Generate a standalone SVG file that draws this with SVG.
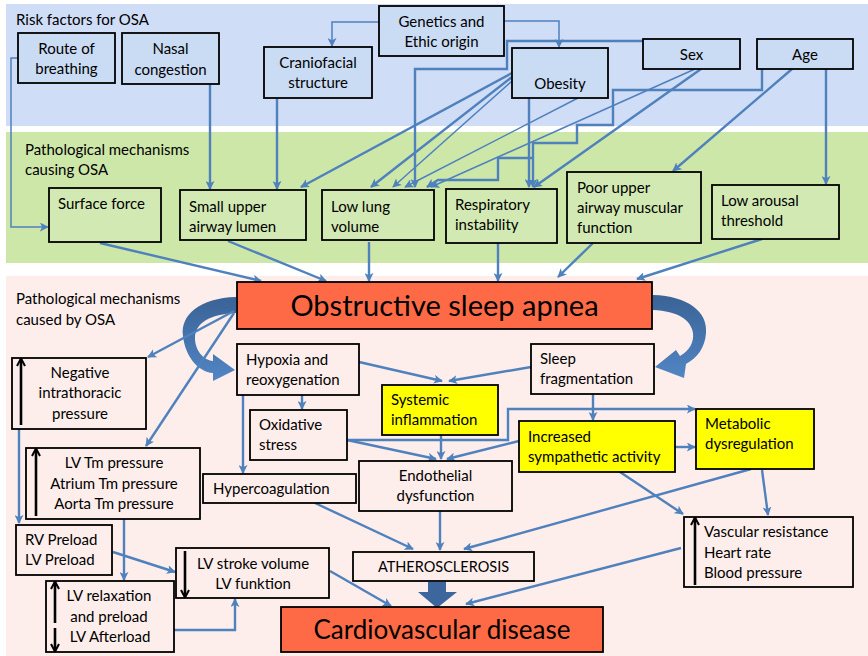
<svg xmlns="http://www.w3.org/2000/svg" width="868" height="656" viewBox="0 0 868 656">
<style>
text{font-family:Lato,"Liberation Sans",sans-serif;font-size:15px;fill:#000}
.c{text-anchor:middle}
.bx{stroke:#000;stroke-width:1.8}
.blue{fill:#cadbf4}
.green{fill:#d2e9b3}
.pink{fill:#fdeeeb}
.yel{fill:#ffff00}
.red{fill:#fe6a45}
.lbl{font-size:14.5px}
#connectors path{fill:none;stroke:#4f81bd;stroke-width:2.4;marker-end:url(#a)}
#connectors path.t{stroke-width:1.5}
.up{stroke:#000;stroke-width:2.6;fill:none;marker-end:url(#b)}
</style>
<defs>
<marker id="a" viewBox="0 0 10 10" refX="9" refY="5" markerWidth="9" markerHeight="9" markerUnits="userSpaceOnUse" orient="auto"><path d="M0,0 L10,5 L0,10 L2.5,5 Z" fill="#4f81bd"/></marker>
<marker id="b" viewBox="0 0 10 10" refX="9" refY="5" markerWidth="10" markerHeight="10" markerUnits="userSpaceOnUse" orient="auto"><path d="M2,1 L9.5,5 L2,9" fill="none" stroke="#000" stroke-width="2"/></marker>
<linearGradient id="g1" x1="0" y1="0" x2="0" y2="1"><stop offset="0" stop-color="#3a6396"/><stop offset="1" stop-color="#5185c4"/></linearGradient>
</defs>

<!-- bands -->
<rect x="6" y="4" width="862" height="122" fill="#cfddf7"/>
<rect x="6" y="132" width="862" height="131" fill="#cde7a9"/>
<rect x="6" y="276" width="862" height="380" fill="#fdeeeb"/>
<text x="16" y="25">Risk factors for OSA</text>
<text x="25" y="155">Pathological mechanisms</text>
<text x="25" y="175">causing OSA</text>
<text x="16" y="304">Pathological mechanisms</text>
<text x="16" y="325">caused by OSA</text>

<!-- big curved arrows -->
<path id="curve-left" d="M236,297 C200,298 180,315 183,336 C185,356 198,372 213,373 L213,381 L235,370 L213,354 L213,361 C203,360 195,350 195,338 C195,323 210,314 236,313 Z" fill="url(#g1)"/>
<path id="curve-right" d="M653,295 C688,296 708,312 706,333 C705,348 697,358 686,364 L684,378 L655,367 L676,350 L680,356 C690,350 694,342 693,333 C691,320 678,311 653,310 Z" fill="url(#g1)"/>
<path id="block-arrow" d="M428,582 H446 V592 H457 L437,608 L418,592 H428 Z" fill="#3d679c"/>

<g id="connectors">
<path class="t" d="M18,58 H11 V227 H48"/>
<path d="M210,84 V189"/>
<path d="M277,98 V189"/>
<path class="t" d="M379,22 H332 V46"/>
<path class="t" d="M504,21 H559 V47"/>
<path d="M643,41 H507 V69 H415 V187"/>
<path d="M512,73 L301,187"/>
<path d="M512,77 L371,187"/>
<path class="t" d="M512,81 L393,187"/>
<path class="t" d="M578,98 L405,187"/>
<path class="t" d="M695,69 L431,187"/>
<path d="M529,98 V187"/>
<path d="M701,69 L534,187"/>
<path d="M762,69 V90 H613 V125 H577 V143 H533 V187"/>
<path d="M533,158 H498 V180 H438 L427,187"/>
<path d="M792,69 L673,171"/>
<path d="M826,69 V184"/>
<path d="M100,243 L261,281"/>
<path d="M228,241 L326,281"/>
<path d="M369,242 V281"/>
<path d="M498,243 V281"/>
<path d="M593,243 L558,277"/>
<path d="M762,239 L637,279"/>
<path d="M234,311 L148,357"/>
<path d="M234,313 L146,446"/>
<path d="M359,362 L442,381"/>
<path d="M531,367 L449,381"/>
<path d="M302,395 V409"/>
<path d="M243,395 V473"/>
<path d="M347,440 L436,459"/>
<path d="M347,440 H508 V409 H695"/>
<path d="M441,435 V459"/>
<path d="M519,441 L447,459"/>
<path d="M593,394 V420"/>
<path d="M675,447 H695"/>
<path d="M620,472 L683,514"/>
<path d="M751,469 L464,549"/>
<path d="M762,470 L768,515"/>
<path d="M440,511 V550"/>
<path d="M315,503 L413,549"/>
<path d="M681,548 L466,604"/>
<path d="M330,571 L391,606"/>
<path d="M124,519 V580"/>
<path d="M19,429 V523"/>
<path d="M113,552 L175,572"/>
<path d="M174,630 H235 V599"/>
</g>

<!-- risk factors -->
<g id="route"><rect class="bx blue" x="18" y="33" width="97" height="50"/><text class="c" x="66.5" y="54">Route of</text><text class="c" x="66.5" y="74">breathing</text></g>
<g id="nasal"><rect class="bx blue" x="122" y="33" width="97" height="51"/><text class="c" x="170.5" y="54">Nasal</text><text class="c" x="170.5" y="75">congestion</text></g>
<g id="cranio"><rect class="bx blue" x="264" y="47" width="108" height="51"/><text class="c" x="318" y="68">Craniofacial</text><text class="c" x="318" y="88">structure</text></g>
<g id="genetics"><rect class="bx blue" x="379" y="6" width="125" height="50"/><text class="c" x="441.5" y="27">Genetics and</text><text class="c" x="441.5" y="47">Ethic origin</text></g>
<g id="obesity"><rect class="bx blue" x="512" y="48" width="96" height="50"/><text class="c" x="560" y="89">Obesity</text></g>
<g id="sex"><rect class="bx blue" x="643" y="39" width="97" height="30"/><text class="c" x="691.5" y="60">Sex</text></g>
<g id="age"><rect class="bx blue" x="757" y="39" width="96" height="30"/><text class="c" x="805" y="60">Age</text></g>

<!-- mechanisms causing OSA -->
<g id="surface"><rect class="bx green" x="49" y="188" width="112" height="54"/><text x="58" y="209">Surface force</text></g>
<g id="small-upper"><rect class="bx green" x="180" y="190" width="126" height="50"/><text x="189" y="212">Small upper</text><text x="189" y="232">airway lumen</text></g>
<g id="low-lung"><rect class="bx green" x="322" y="190" width="112" height="50"/><text x="331" y="212">Low lung</text><text x="331" y="232">volume</text></g>
<g id="resp"><rect class="bx green" x="446" y="189" width="111" height="54"/><text x="455" y="210">Respiratory</text><text x="455" y="230">instability</text></g>
<g id="poor"><rect class="bx green" x="567" y="172" width="134" height="71"/><text x="577" y="193">Poor upper</text><text x="577" y="213">airway muscular</text><text x="577" y="233">function</text></g>
<g id="arousal"><rect class="bx green" x="712" y="185" width="127" height="54"/><text x="721" y="206">Low arousal</text><text x="721" y="226">threshold</text></g>

<!-- OSA -->
<g id="osa"><rect class="bx red" x="237" y="282" width="415" height="47"/><text class="c" x="444.5" y="316" style="font-size:29px">Obstructive sleep apnea</text></g>

<!-- caused by OSA -->
<g id="hypoxia"><rect class="bx pink" x="237" y="344" width="122" height="51"/><text x="246" y="365">Hypoxia and</text><text x="246" y="385">reoxygenation</text></g>
<g id="sleepfrag"><rect class="bx pink" x="531" y="344" width="123" height="50"/><text x="540" y="364">Sleep</text><text x="540" y="384">fragmentation</text></g>
<g id="systemic"><rect class="bx yel" x="382" y="385" width="116" height="50"/><text x="391" y="405">Systemic</text><text x="391" y="425">inflammation</text></g>
<g id="oxidative"><rect class="bx pink" x="250" y="410" width="97" height="50"/><text x="259" y="430">Oxidative</text><text x="259" y="450">stress</text></g>
<g id="sympathetic"><rect class="bx yel" x="519" y="421" width="156" height="51"/><text x="528" y="442">Increased</text><text x="528" y="462">sympathetic activity</text></g>
<g id="metabolic"><rect class="bx yel" x="696" y="409" width="118" height="60"/><text x="705" y="429">Metabolic</text><text x="705" y="449">dysregulation</text></g>
<g id="endothelial"><rect class="bx pink" x="359" y="461" width="153" height="50"/><text class="c" x="435.5" y="481">Endothelial</text><text class="c" x="435.5" y="501">dysfunction</text></g>
<g id="hypercoag"><rect class="bx pink" x="203" y="474" width="153" height="29"/><text x="213" y="494">Hypercoagulation</text></g>
<g id="negative"><rect class="bx pink" x="12" y="358" width="134" height="71"/><path class="up" d="M21,425 V359"/><text class="c" x="80" y="378">Negative</text><text class="c" x="80" y="398">intrathoracic</text><text class="c" x="80" y="419">pressure</text></g>
<g id="lvtm"><rect class="bx pink" x="26" y="448" width="174" height="71"/><path class="up" d="M36,516 V449"/><text class="c" x="114" y="468">LV Tm pressure</text><text class="c" x="114" y="489">Atrium Tm pressure</text><text class="c" x="114" y="509">Aorta Tm pressure</text></g>
<g id="preload"><rect class="bx pink" x="16" y="525" width="96" height="50"/><text x="25" y="545">RV Preload</text><text x="25" y="565">LV Preload</text></g>
<g id="lvrelax"><rect class="bx pink" x="46" y="581" width="128" height="71"/><path class="up" d="M55,623 V582"/><path class="up" d="M55,628 V651"/><text class="c" x="109" y="601">LV relaxation</text><text class="c" x="109" y="622">and preload</text><text class="c" x="110" y="642">LV Afterload</text></g>
<g id="lvstroke"><rect class="bx pink" x="176" y="548" width="153" height="50"/><path class="up" d="M185,551 V597"/><text class="c" x="253" y="569">LV stroke volume</text><text class="c" x="253" y="589">LV funktion</text></g>
<g id="athero"><rect class="bx pink" x="353" y="552" width="181" height="29"/><text class="c lbl" x="443.5" y="572">ATHEROSCLEROSIS</text></g>
<g id="vascular"><rect class="bx pink" x="684" y="517" width="169" height="70"/><path class="up" d="M695,585 V518"/><text x="704" y="537">Vascular resistance</text><text x="704" y="558">Heart rate</text><text x="704" y="578">Blood pressure</text></g>
<g id="cvd"><rect class="bx red" x="281" y="607" width="322" height="45"/><text class="c" x="442" y="639" style="font-size:26px">Cardiovascular disease</text></g>
</svg>
